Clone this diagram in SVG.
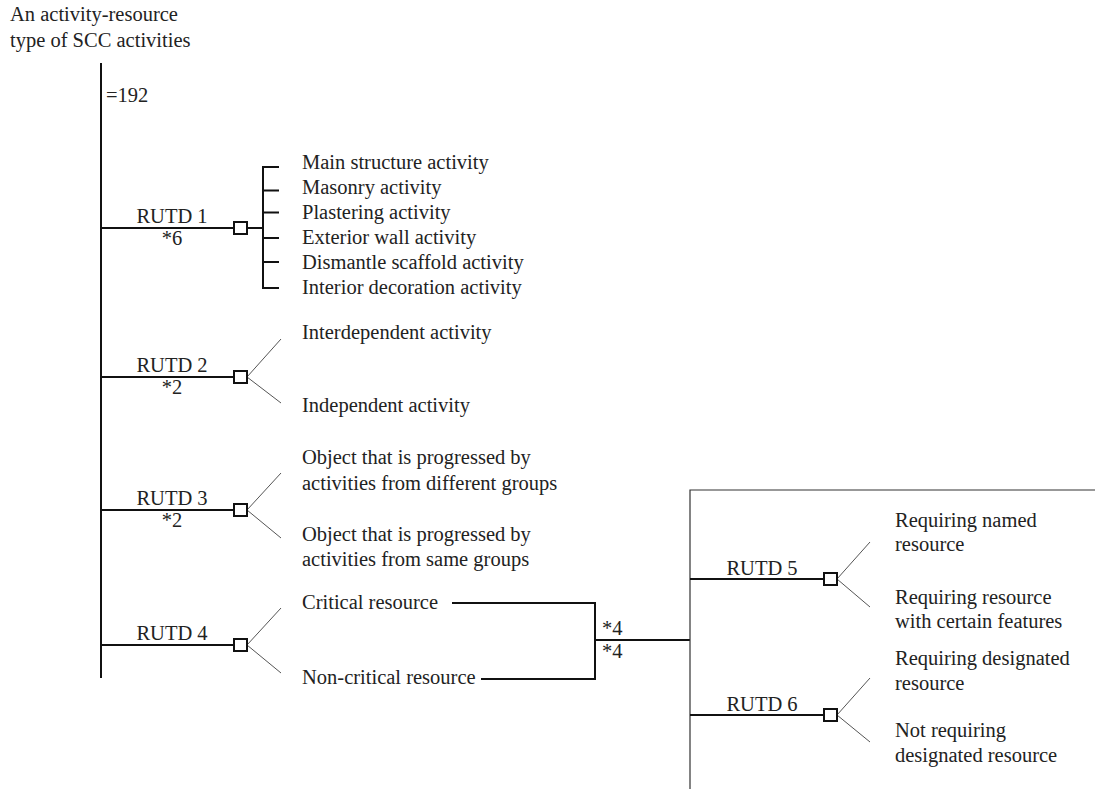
<svg xmlns="http://www.w3.org/2000/svg" width="1095" height="789" viewBox="0 0 1095 789">
<style>
text{font-family:"Liberation Serif","Times New Roman",serif;font-size:20.5px;fill:#222}
.c{text-anchor:middle}
.m{stroke:#111;stroke-width:2;fill:none}
.t{stroke:#333;stroke-width:1.2;fill:none}
.f{stroke:#555;stroke-width:1;fill:none}
.b{stroke:#111;stroke-width:2;fill:#fff}
</style>
<g id="connectors">
<line class="m" x1="101" y1="63" x2="101" y2="678"/>
<line class="m" x1="100" y1="228" x2="234" y2="228"/>
<line class="m" x1="247" y1="228" x2="263" y2="228"/>
<path class="m" d="M279 167H263V288H279M263 190.5H279M263 212.5H279M263 238H279M263 262H279"/>
<line class="m" x1="100" y1="377" x2="234" y2="377"/>
<path class="f" d="M281 339L247 377L281 403"/>
<line class="m" x1="100" y1="510" x2="234" y2="510"/>
<path class="f" d="M281 473L247 510L281 538"/>
<line class="m" x1="100" y1="645" x2="234" y2="645"/>
<path class="f" d="M281 608L247 645L281 673"/>
<path class="m" d="M452 603H595V679H481"/>
<line class="m" x1="595" y1="640" x2="690" y2="640"/>
<path class="t" d="M1095 490H690V789"/>
<line class="m" x1="690" y1="579" x2="824" y2="579"/>
<path class="f" d="M870 542L837 579L870 607"/>
<line class="m" x1="690" y1="715" x2="824" y2="715"/>
<path class="f" d="M870 678L837 715L870 742"/>
</g>
<g id="root">
<text x="10" y="21">An activity-resource</text>
<text x="10" y="47">type of SCC activities</text>
<text x="106" y="102">=192</text>
</g>
<g id="rutd1">
<text class="c" x="172" y="223">RUTD 1</text>
<text class="c" x="172" y="245">*6</text>
<rect class="b" x="234" y="222" width="13" height="12"/>
<text x="302" y="169">Main structure activity</text>
<text x="302" y="194">Masonry activity</text>
<text x="302" y="219">Plastering activity</text>
<text x="302" y="244">Exterior wall activity</text>
<text x="302" y="269">Dismantle scaffold activity</text>
<text x="302" y="294">Interior decoration activity</text>
</g>
<g id="rutd2">
<text class="c" x="172" y="372">RUTD 2</text>
<text class="c" x="172" y="394">*2</text>
<rect class="b" x="234" y="371" width="13" height="12"/>
<text x="302" y="339">Interdependent activity</text>
<text x="302" y="412">Independent activity</text>
</g>
<g id="rutd3">
<text class="c" x="172" y="505">RUTD 3</text>
<text class="c" x="172" y="527">*2</text>
<rect class="b" x="234" y="504" width="13" height="12"/>
<text x="302" y="464">Object that is progressed by</text>
<text x="302" y="490">activities from different groups</text>
<text x="302" y="541">Object that is progressed by</text>
<text x="302" y="566">activities from same groups</text>
</g>
<g id="rutd4">
<text class="c" x="172" y="640">RUTD 4</text>
<rect class="b" x="234" y="639" width="13" height="12"/>
<text x="302" y="609">Critical resource</text>
<text x="302" y="684">Non-critical resource</text>
</g>
<g id="mult">
<text x="602" y="635">*4</text>
<text x="602" y="658">*4</text>
</g>
<g id="rutd5">
<text class="c" x="762" y="575">RUTD 5</text>
<rect class="b" x="824" y="573" width="13" height="12"/>
<text x="895" y="527">Requiring named</text>
<text x="895" y="551">resource</text>
<text x="895" y="604">Requiring resource</text>
<text x="895" y="628">with certain features</text>
</g>
<g id="rutd6">
<text class="c" x="762" y="711">RUTD 6</text>
<rect class="b" x="824" y="709" width="13" height="12"/>
<text x="895" y="665">Requiring designated</text>
<text x="895" y="690">resource</text>
<text x="895" y="737">Not requiring</text>
<text x="895" y="762">designated resource</text>
</g>
</svg>
